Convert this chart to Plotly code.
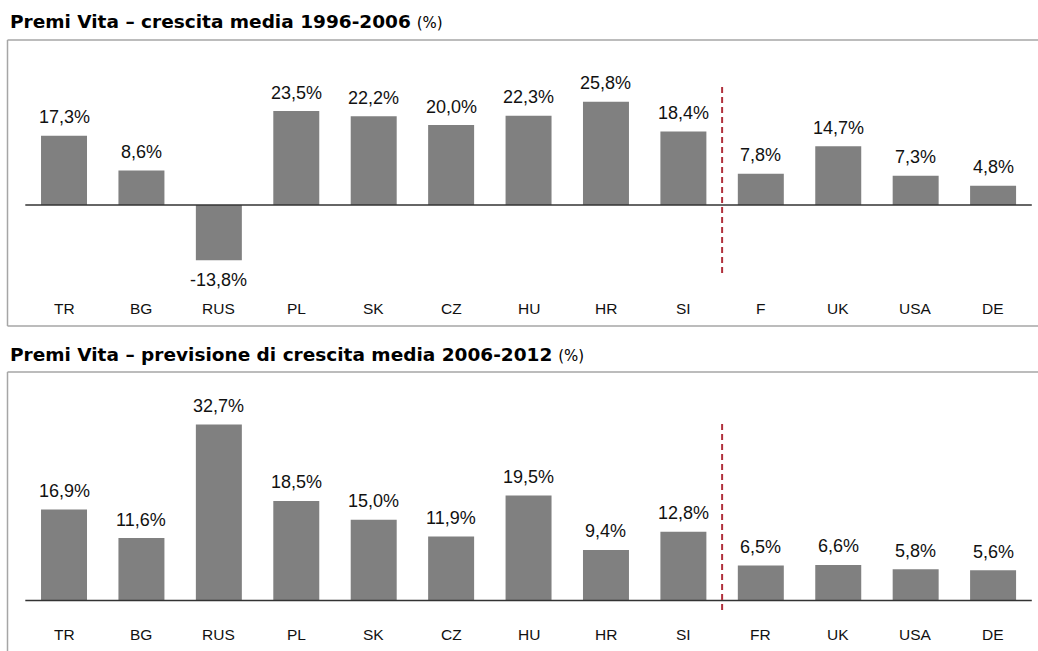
import plotly.graph_objects as go

# Life premiums: average growth rates by country (%)
countries_hist = ["TR", "BG", "RUS", "PL", "SK", "CZ", "HU", "HR", "SI", "F", "UK", "USA", "DE"]
growth_1996_2006 = [17.3, 8.6, -13.8, 23.5, 22.2, 20.0, 22.3, 25.8, 18.4, 7.8, 14.7, 7.3, 4.8]

countries_fcst = ["TR", "BG", "RUS", "PL", "SK", "CZ", "HU", "HR", "SI", "FR", "UK", "USA", "DE"]
growth_2006_2012 = [16.9, 11.6, 32.7, 18.5, 15.0, 11.9, 19.5, 9.4, 12.8, 6.5, 6.6, 5.8, 5.6]

title_hist = "Premi Vita – crescita media 1996-2006"
title_fcst = "Premi Vita – previsione di crescita media 2006-2012"

W, H = 1038, 651
FONT = "Liberation Sans, Arial, sans-serif"
TITLE_FONT = "DejaVu Sans, Liberation Sans, sans-serif"
BAR = "#808080"
SEP = "#b0303c"


def py(px):
    """Pixel row (from top) to paper y."""
    return 1 - px / H


def pxx(px):
    return px / W


def pct(v):
    return f"{v:.1f}%".replace(".", ",")


fig = go.Figure()
fig.add_trace(go.Bar(x=countries_hist, y=growth_1996_2006, marker=dict(color=BAR, line=dict(width=0)),
                     xaxis="x", yaxis="y", hoverinfo="skip"))
fig.add_trace(go.Bar(x=countries_fcst, y=growth_2006_2012, marker=dict(color=BAR, line=dict(width=0)),
                     xaxis="x2", yaxis="y2", hoverinfo="skip"))

# panel geometry: zero line rows and pixel scale per percentage point
z1, s1, top1, bot1 = 205.0, 4.0, 40.0, 326.0
z2, s2, top2, bot2 = 600.5, 5.38, 372.0, 651.0

xdom = [pxx(25.3), pxx(1031.8)]
axis_common = dict(showgrid=False, zeroline=False, showticklabels=False, showline=False, ticks="")
fig.update_layout(
    width=W, height=H,
    margin=dict(l=0, r=0, t=0, b=0),
    paper_bgcolor="white", plot_bgcolor="white",
    showlegend=False, bargap=0.406,
    font=dict(family=FONT, color="#111111"),
    xaxis=dict(domain=xdom, anchor="y", range=[-0.5, 12.5], **axis_common),
    yaxis=dict(domain=[py(bot1), py(top1)], anchor="x",
               range=[-(bot1 - z1) / s1, (z1 - top1) / s1], **axis_common),
    xaxis2=dict(domain=xdom, anchor="y2", range=[-0.5, 12.5], **axis_common),
    yaxis2=dict(domain=[py(bot2), py(top2)], anchor="x2",
                range=[-(bot2 - z2) / s2, (z2 - top2) / s2], **axis_common),
)

shapes = []
# panel frames (left, top, bottom edges)
frame = dict(color="#a6a6a6", width=1.5)
shapes += [
    dict(type="line", xref="paper", yref="paper", x0=pxx(7.5), x1=1, y0=py(top1), y1=py(top1), line=frame),
    dict(type="line", xref="paper", yref="paper", x0=pxx(7.5), x1=1, y0=py(bot1), y1=py(bot1), line=frame),
    dict(type="line", xref="paper", yref="paper", x0=pxx(7.5), x1=pxx(7.5), y0=py(bot1), y1=py(top1), line=frame),
    dict(type="line", xref="paper", yref="paper", x0=pxx(7.5), x1=1, y0=py(top2), y1=py(top2), line=frame),
    dict(type="line", xref="paper", yref="paper", x0=pxx(7.5), x1=pxx(7.5), y0=0, y1=py(top2), line=frame),
]
# zero baselines
shapes += [
    dict(type="line", xref="x domain", yref="y", x0=0, x1=1, y0=0, y1=0, line=dict(color="#333333", width=1.5)),
    dict(type="line", xref="x2 domain", yref="y2", x0=0, x1=1, y0=0, y1=0, line=dict(color="#333333", width=1.5)),
]
# separator between emerging and mature markets
shapes += [
    dict(type="line", xref="x", yref="y", x0=8.5, x1=8.5, y0=-(273 - z1) / s1, y1=(z1 - 87) / s1,
         line=dict(color=SEP, width=2, dash="6px,4px")),
    dict(type="line", xref="x2", yref="y2", x0=8.5, x1=8.5, y0=-(610 - z2) / s2, y1=(z2 - 420) / s2,
         line=dict(color=SEP, width=2, dash="6px,4px")),
]
fig.update_layout(shapes=shapes)

ann = []
# value labels
for xr, yr, cats, vals in [("x", "y", countries_hist, growth_1996_2006),
                           ("x2", "y2", countries_fcst, growth_2006_2012)]:
    for c, v in zip(cats, vals):
        ann.append(dict(xref=xr, yref=yr, x=c, y=v, text=pct(v), showarrow=False,
                        yanchor="bottom" if v >= 0 else "top",
                        yshift=6.5 if v >= 0 else -7.5,
                        font=dict(size=18, color="#111111", family=FONT)))
# category labels
for xr, row, cats in [("x", 308.5, countries_hist), ("x2", 634, countries_fcst)]:
    for c in cats:
        ann.append(dict(xref=xr, yref="paper", x=c, y=py(row), text=c, showarrow=False,
                        yanchor="middle", font=dict(size=15.5, color="#111111", family=FONT)))
# panel titles
for row, t in [(21.5, title_hist), (354, title_fcst)]:
    ann.append(dict(xref="paper", yref="paper", x=pxx(8), y=py(row), xanchor="left", yanchor="middle",
                    showarrow=False,
                    text=f"<b>{t}</b> <span style='font-size:15px'>(%)</span>",
                    font=dict(size=18.5, color="#000000", family=TITLE_FONT)))
fig.update_layout(annotations=ann)

fig.write_html("out.html")
